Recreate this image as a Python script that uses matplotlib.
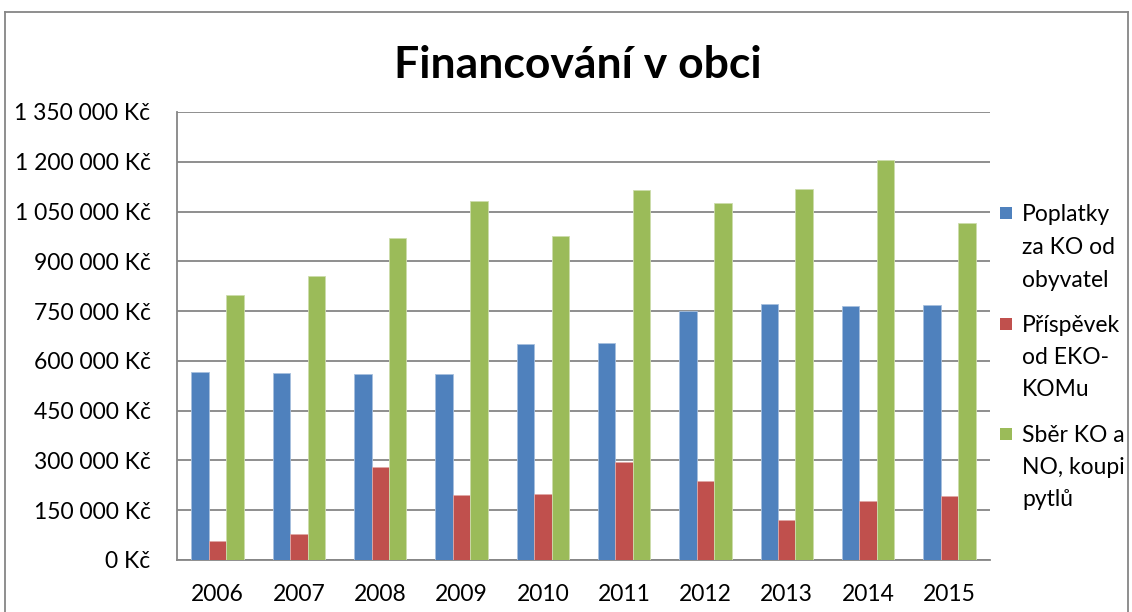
import matplotlib
matplotlib.use("Agg")
import matplotlib.pyplot as plt
from matplotlib.patches import Rectangle
from matplotlib.lines import Line2D
import numpy as np

years = ["2006", "2007", "2008", "2009", "2010", "2011", "2012", "2013", "2014", "2015"]
poplatky = [567000, 564000, 559000, 560000, 652000, 655000, 749000, 772000, 765000, 767000]
prispevek = [57000, 78000, 280000, 195000, 200000, 294000, 237000, 121000, 179000, 194000]
sber = [799000, 857000, 969000, 1082000, 976000, 1116000, 1075000, 1118000, 1206000, 1016000]
series_labels = ["Poplatky\nza KO od\nobyvatel", "Příspěvek\nod EKO-\nKOMu", "Sběr KO a\nNO, koupi\npytlů"]
yticks = [0, 150000, 300000, 450000, 600000, 750000, 900000, 1050000, 1200000, 1350000]
ytick_labels = ["0 Kč", "150 000 Kč", "300 000 Kč", "450 000 Kč", "600 000 Kč",
                "750 000 Kč", "900 000 Kč", "1 050 000 Kč", "1 200 000 Kč", "1 350 000 Kč"]
title = "Financování v obci"

colors = ["#4F81BD", "#C0504D", "#9BBB59"]
edges = ["#A7C0DE", "#DFA8A6", "#CDDDAC"]
FONT = ["Lato", "DejaVu Sans"]
plt.rcParams["font.family"] = FONT

W, H = 1132, 612
fig = plt.figure(figsize=(W / 100, H / 100), dpi=100)
ax = fig.add_axes([177 / W, 1 - 560 / H, (990 - 177) / W, (560 - 112) / H])

x = np.arange(len(years))
bw = 0.215
for i, vals in enumerate([poplatky, prispevek, sber]):
    ax.bar(x + (i - 1) * bw, vals, width=bw, color=colors[i], edgecolor=edges[i],
           linewidth=0.6, zorder=3)

ax.set_xlim(-0.5, len(years) - 0.5)
ax.set_ylim(0, 1350000)
ax.set_yticks(yticks)
ax.set_yticklabels(ytick_labels, fontsize=16.5)
ax.set_xticks(x)
ax.set_xticklabels(years, fontsize=16.5)
ax.tick_params(axis="both", length=0, colors="#000000")
ax.tick_params(axis="y", pad=19)
ax.tick_params(axis="x", pad=17)
ax.grid(axis="y", color="#868686", linewidth=1.3, zorder=0)
for s in ["top", "right"]:
    ax.spines[s].set_visible(False)
ax.spines["left"].set_color("#868686")
ax.spines["bottom"].set_color("#868686")
ax.spines["left"].set_linewidth(1.3)
ax.spines["bottom"].set_linewidth(1.3)

fig.text(578 / W, 1 - 65 / H, title, ha="center", va="center", fontsize=32, fontweight="bold")

# legend
leg_lines = [[213, 246, 279], [324, 356, 388], [434, 466, 498]]
for i, lab in enumerate(series_labels):
    y0 = leg_lines[i][0]
    fig.patches.append(Rectangle((1000 / W, 1 - (y0 + 6) / H), 12 / W, 12 / H,
                                 transform=fig.transFigure, facecolor=colors[i], edgecolor="none"))
    for line, yc in zip(lab.split("\n"), leg_lines[i]):
        fig.text(1022 / W, 1 - (yc + 8) / H, line, ha="left", va="baseline", fontsize=16.5)

# outer border
for xs, ys in [([5, 5], [612, 12]), ([5, 1128], [12, 12]), ([1128, 1128], [12, 612])]:
    fig.lines.append(Line2D([v / W for v in xs], [1 - v / H for v in ys],
                            transform=fig.transFigure, color="#868686", linewidth=1.3))

fig.savefig("out.png", dpi=100)
